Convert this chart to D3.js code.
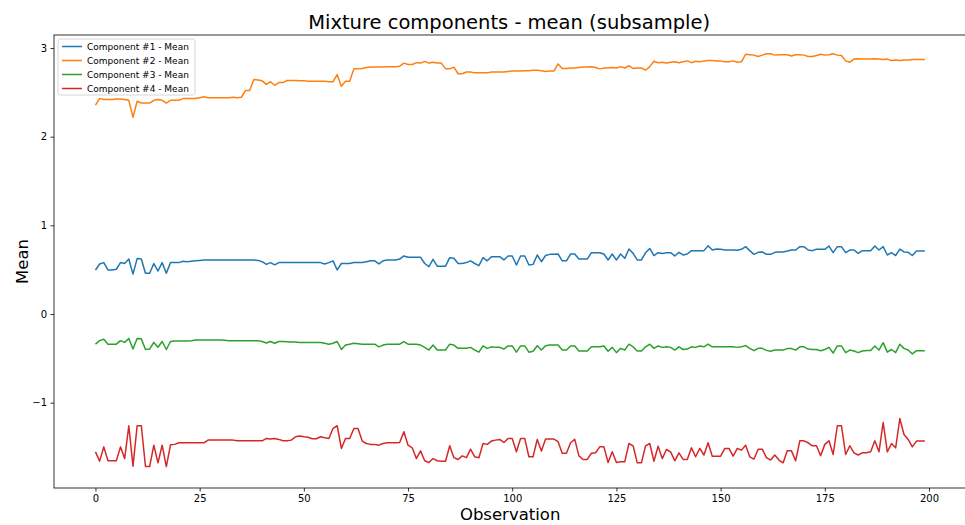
<!DOCTYPE html>
<html><head><meta charset="utf-8">
<script src="https://cdn.jsdelivr.net/npm/d3@7"></script>
<style>body{margin:0;background:#fff}svg{display:block;font-family:"DejaVu Sans",sans-serif}</style>
</head><body>
<svg id="chart" width="965" height="525"></svg>
<script>
const seriesNames = ["Component #1 - Mean","Component #2 - Mean","Component #3 - Mean","Component #4 - Mean"];
const seriesColors = ["#1f77b4","#ff7f0e","#2ca02c","#d62728"];
const xTicks = [0,25,50,75,100,125,150,175,200];
const yTicks = [-1,0,1,2,3];

const comp1 = [0.497,0.564,0.58,0.497,0.497,0.505,0.58,0.57,0.62,0.45,0.625,0.62,0.46,0.46,0.57,0.485,0.58,0.46,0.58,0.58,
0.58,0.595,0.59,0.595,0.60,0.605,0.61,0.61,0.61,0.61,0.61,0.61,0.61,0.61,0.61,0.61,0.61,0.61,0.61,0.605,
0.59,0.56,0.58,0.555,0.58,0.58,0.58,0.58,0.58,0.58,0.58,0.58,0.58,0.58,0.58,0.565,0.58,0.60,0.497,0.57,
0.57,0.57,0.58,0.58,0.58,0.59,0.60,0.60,0.565,0.60,0.61,0.61,0.61,0.62,0.655,0.64,0.64,0.64,0.64,0.57,
0.535,0.617,0.54,0.54,0.54,0.636,0.63,0.57,0.57,0.58,0.60,0.57,0.545,0.636,0.60,0.647,0.647,0.647,0.61,0.655,
0.655,0.553,0.655,0.655,0.553,0.56,0.666,0.59,0.66,0.673,0.673,0.677,0.60,0.60,0.677,0.677,0.62,0.62,0.62,0.692,
0.692,0.692,0.677,0.61,0.677,0.61,0.677,0.628,0.733,0.684,0.61,0.61,0.692,0.74,0.66,0.692,0.684,0.69,0.692,0.655,
0.696,0.666,0.677,0.715,0.715,0.715,0.715,0.771,0.722,0.733,0.73,0.722,0.722,0.722,0.72,0.73,0.76,0.715,0.673,0.696,
0.70,0.673,0.673,0.696,0.70,0.70,0.71,0.722,0.722,0.76,0.76,0.722,0.715,0.73,0.73,0.73,0.767,0.692,0.76,0.76,
0.692,0.722,0.722,0.684,0.715,0.715,0.715,0.767,0.722,0.76,0.666,0.692,0.66,0.733,0.70,0.696,0.66,0.71,0.71,0.71];

const comp2 = [2.355,2.43,2.42,2.42,2.42,2.425,2.425,2.42,2.41,2.22,2.40,2.38,2.38,2.38,2.41,2.42,2.41,2.38,2.41,2.41,
2.41,2.43,2.43,2.43,2.43,2.44,2.45,2.44,2.44,2.44,2.44,2.44,2.44,2.445,2.44,2.445,2.52,2.52,2.645,2.64,
2.63,2.59,2.62,2.58,2.61,2.61,2.635,2.635,2.635,2.63,2.63,2.625,2.625,2.625,2.625,2.625,2.62,2.62,2.70,2.57,
2.625,2.625,2.765,2.765,2.77,2.78,2.785,2.785,2.785,2.785,2.79,2.79,2.79,2.795,2.83,2.815,2.815,2.835,2.83,2.85,
2.83,2.84,2.83,2.83,2.765,2.765,2.785,2.71,2.71,2.73,2.73,2.72,2.72,2.72,2.72,2.73,2.73,2.73,2.73,2.735,
2.74,2.74,2.74,2.745,2.745,2.75,2.75,2.745,2.735,2.74,2.74,2.82,2.77,2.77,2.775,2.775,2.78,2.785,2.785,2.79,
2.78,2.765,2.775,2.775,2.78,2.775,2.79,2.775,2.80,2.77,2.775,2.775,2.75,2.79,2.85,2.835,2.84,2.83,2.84,2.845,
2.835,2.845,2.855,2.835,2.85,2.845,2.855,2.86,2.86,2.855,2.855,2.845,2.845,2.855,2.84,2.845,2.93,2.925,2.92,2.905,
2.92,2.935,2.935,2.92,2.925,2.925,2.925,2.91,2.925,2.925,2.92,2.905,2.905,2.915,2.93,2.92,2.925,2.935,2.92,2.915,
2.855,2.84,2.875,2.88,2.875,2.875,2.875,2.88,2.875,2.87,2.875,2.86,2.865,2.86,2.865,2.865,2.87,2.87,2.87,2.87];

const comp3 = [-0.339,-0.30,-0.285,-0.34,-0.34,-0.34,-0.30,-0.32,-0.275,-0.395,-0.275,-0.28,-0.40,-0.395,-0.32,-0.375,-0.31,-0.40,-0.31,-0.305,
-0.305,-0.305,-0.303,-0.30,-0.293,-0.293,-0.293,-0.293,-0.293,-0.293,-0.293,-0.297,-0.30,-0.30,-0.30,-0.30,-0.30,-0.30,-0.30,-0.30,
-0.31,-0.327,-0.31,-0.33,-0.31,-0.31,-0.313,-0.315,-0.315,-0.32,-0.32,-0.32,-0.32,-0.32,-0.32,-0.33,-0.34,-0.33,-0.31,-0.40,
-0.35,-0.34,-0.33,-0.335,-0.34,-0.34,-0.34,-0.34,-0.37,-0.35,-0.34,-0.34,-0.34,-0.34,-0.31,-0.34,-0.34,-0.34,-0.35,-0.376,
-0.406,-0.35,-0.406,-0.406,-0.406,-0.34,-0.35,-0.387,-0.387,-0.387,-0.376,-0.406,-0.43,-0.36,-0.387,-0.37,-0.376,-0.376,-0.395,-0.36,
-0.36,-0.43,-0.36,-0.36,-0.43,-0.42,-0.357,-0.406,-0.357,-0.35,-0.35,-0.35,-0.406,-0.406,-0.36,-0.36,-0.417,-0.417,-0.417,-0.37,
-0.37,-0.37,-0.36,-0.42,-0.376,-0.435,-0.387,-0.406,-0.34,-0.37,-0.417,-0.417,-0.37,-0.34,-0.387,-0.36,-0.376,-0.37,-0.376,-0.406,
-0.37,-0.40,-0.395,-0.37,-0.376,-0.36,-0.37,-0.34,-0.37,-0.37,-0.37,-0.37,-0.37,-0.37,-0.376,-0.37,-0.355,-0.387,-0.413,-0.387,
-0.387,-0.41,-0.42,-0.406,-0.406,-0.406,-0.39,-0.39,-0.406,-0.37,-0.37,-0.395,-0.40,-0.40,-0.413,-0.40,-0.376,-0.44,-0.36,-0.36,
-0.435,-0.406,-0.417,-0.435,-0.417,-0.41,-0.41,-0.36,-0.406,-0.323,-0.43,-0.40,-0.435,-0.34,-0.387,-0.406,-0.45,-0.413,-0.413,-0.413];

const comp4 = [-1.554,-1.659,-1.498,-1.655,-1.655,-1.655,-1.498,-1.63,-1.26,-1.716,-1.26,-1.26,-1.72,-1.72,-1.479,-1.678,-1.479,-1.72,-1.475,-1.47,
-1.452,-1.452,-1.452,-1.452,-1.452,-1.452,-1.452,-1.422,-1.422,-1.422,-1.422,-1.422,-1.422,-1.422,-1.43,-1.43,-1.43,-1.43,-1.43,-1.43,
-1.43,-1.403,-1.41,-1.403,-1.414,-1.43,-1.43,-1.422,-1.384,-1.375,-1.384,-1.39,-1.407,-1.407,-1.384,-1.396,-1.403,-1.29,-1.26,-1.516,
-1.403,-1.403,-1.29,-1.29,-1.433,-1.46,-1.47,-1.47,-1.479,-1.46,-1.452,-1.452,-1.452,-1.448,-1.328,-1.479,-1.509,-1.63,-1.543,-1.655,
-1.675,-1.63,-1.655,-1.66,-1.66,-1.486,-1.62,-1.64,-1.599,-1.62,-1.524,-1.61,-1.62,-1.46,-1.47,-1.433,-1.422,-1.414,-1.448,-1.403,
-1.403,-1.554,-1.403,-1.403,-1.61,-1.61,-1.414,-1.546,-1.41,-1.41,-1.41,-1.44,-1.57,-1.57,-1.452,-1.414,-1.599,-1.64,-1.64,-1.57,
-1.565,-1.498,-1.498,-1.675,-1.554,-1.675,-1.667,-1.667,-1.46,-1.486,-1.678,-1.678,-1.486,-1.46,-1.66,-1.49,-1.63,-1.528,-1.554,-1.655,
-1.565,-1.64,-1.64,-1.509,-1.61,-1.516,-1.59,-1.452,-1.603,-1.603,-1.603,-1.516,-1.516,-1.603,-1.516,-1.535,-1.479,-1.61,-1.637,-1.524,
-1.524,-1.62,-1.647,-1.59,-1.647,-1.678,-1.543,-1.543,-1.655,-1.43,-1.43,-1.452,-1.486,-1.486,-1.599,-1.47,-1.43,-1.584,-1.26,-1.26,
-1.584,-1.486,-1.565,-1.59,-1.565,-1.565,-1.554,-1.43,-1.554,-1.223,-1.554,-1.46,-1.509,-1.178,-1.358,-1.414,-1.498,-1.433,-1.433,-1.433];

const allSeries = [comp1, comp2, comp3, comp4];

const svg = d3.select("#chart");
const L = 54, R = 966.3, T = 35, B = 488;
const x = d3.scaleLinear().domain([-9.95, 208.95]).range([L, R]);
const y = d3.scaleLinear().domain([-1.962, 3.147]).range([B, T]);

svg.append("defs").append("clipPath").attr("id","clip")
  .append("rect").attr("x",L).attr("y",T).attr("width",R-L).attr("height",B-T);

const line = d3.line().x((d,i)=>x(i)).y(d=>y(d));
const g = svg.append("g").attr("clip-path","url(#clip)");
allSeries.forEach((s,k)=>{
  g.append("path").datum(s).attr("d",line).attr("fill","none")
    .attr("stroke",seriesColors[k]).attr("stroke-width",1.5).attr("stroke-linejoin","round");
});

const fmt = d => d < 0 ? "\u2212" + Math.abs(d) : String(d);
const xa = svg.append("g").attr("transform",`translate(0,${B})`)
  .call(d3.axisBottom(x).tickValues(xTicks).tickSize(3.5).tickPadding(3.5).tickFormat(fmt));
const ya = svg.append("g").attr("transform",`translate(${L},0)`)
  .call(d3.axisLeft(y).tickValues(yTicks).tickSize(3.5).tickPadding(3.5).tickFormat(fmt));
[xa,ya].forEach(a=>{
  a.select(".domain").remove();
  a.selectAll("text").attr("font-size",10).attr("font-family","DejaVu Sans").attr("fill","#000");
  a.selectAll("line").attr("stroke","#000").attr("stroke-width",0.8);
});

svg.append("rect").attr("x",L).attr("y",T).attr("width",R-L).attr("height",B-T)
  .attr("fill","none").attr("stroke","#000").attr("stroke-width",0.8);

svg.append("text").attr("x",(L+R)/2 - 1).attr("y",29).attr("text-anchor","middle")
  .attr("font-size",19.5).text("Mixture components - mean (subsample)");
svg.append("text").attr("x",(L+R)/2).attr("y",520).attr("text-anchor","middle")
  .attr("font-size",16.5).text("Observation");
svg.append("text").attr("transform",`translate(28,${(T+B)/2}) rotate(-90)`).attr("text-anchor","middle")
  .attr("font-size",16.5).text("Mean");

const lg = svg.append("g").attr("transform","translate(58,39)");
lg.append("rect").attr("x",0).attr("y",0).attr("width",137).attr("height",56).attr("rx",2.5)
  .attr("fill","#fff").attr("fill-opacity",0.8).attr("stroke","#ccc").attr("stroke-width",0.8);
seriesNames.forEach((n,k)=>{
  const yy = 7.5 + k*14;
  lg.append("line").attr("x1",4).attr("x2",24).attr("y1",yy).attr("y2",yy)
    .attr("stroke",seriesColors[k]).attr("stroke-width",1.5);
  lg.append("text").attr("x",29).attr("y",yy+3.3).attr("font-size",9).text(n);
});
</script>
</body></html>
